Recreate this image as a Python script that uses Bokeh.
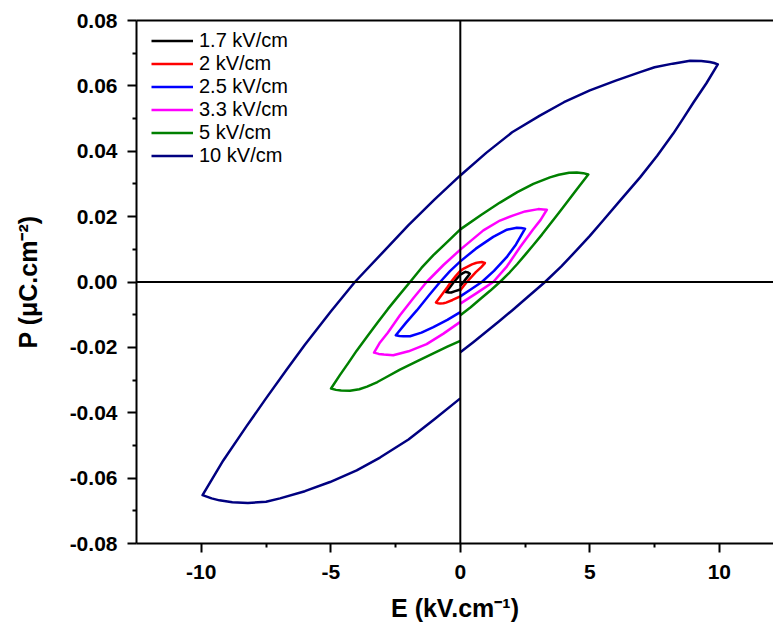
from bokeh.plotting import figure
from bokeh.models import Span, FixedTicker, NumeralTickFormatter, LinearAxis, Range1d
from bokeh.embed import file_html
from bokeh.resources import INLINE

# ---- data ----
labels = ["1.7 kV/cm", "2 kV/cm", "2.5 kV/cm", "3.3 kV/cm", "5 kV/cm", "10 kV/cm"]
colors = ["#000000", "#FF0000", "#0000FF", "#FF00FF", "#008000", "#000080"]

e_17 = [0, 0.1, 0.2, 0.3, 0.37, 0.3, 0.2, 0.1, 0, -0.12, -0.25, -0.4, -0.55, -0.45, -0.35, -0.2, 0]
p_17 = [-0.0012, -0.0002, 0.0008, 0.0018, 0.0025, 0.0029, 0.0031, 0.0027, 0.0022, 0.0012, 0.0,
        -0.0016, -0.0031, -0.0032, -0.0032, -0.0028, -0.0023]

e_2 = [0, 0.25, 0.45, 0.6, 0.8, 0.95, 0.83, 0.7, 0.6, 0.45, 0.3, 0.15, 0, -0.18, -0.36, -0.5,
       -0.65, -0.8, -0.94, -0.86, -0.78, -0.65, -0.55, -0.3, 0]
p_2 = [-0.0025, 0.0, 0.0017, 0.0030, 0.0045, 0.0058, 0.0061, 0.0060, 0.0058, 0.0054, 0.0048,
       0.0042, 0.0034, 0.0018, 0.0, -0.0016, -0.0032, -0.0048, -0.0063, -0.0065, -0.0066,
       -0.0065, -0.0063, -0.0055, -0.0044]

e_25 = [0, 0.4, 0.83, 1.3, 1.79, 2.15, 2.5, 2.35, 2.18, 1.8, 1.27, 0.6, 0, -0.4, -0.78, -1.2,
        -1.68, -2.1, -2.49, -2.35, -2.2, -1.94, -1.5, -1.04, -0.5, 0]
p_25 = [-0.0044, -0.0023, 0.0, 0.0034, 0.0076, 0.0115, 0.0163, 0.0165, 0.0166, 0.0160, 0.0138,
        0.0102, 0.0063, 0.0033, 0.0, -0.0040, -0.0087, -0.0125, -0.0163, -0.0165, -0.0166,
        -0.0166, -0.0155, -0.0138, -0.0116, -0.0092]

e_33 = [0, 0.63, 1.27, 1.8, 2.31, 2.8, 3.1, 3.34, 3.2, 3.01, 2.5, 2.05, 1.53, 0.89, 0, -0.65,
        -1.3, -1.8, -2.33, -2.8, -3.1, -3.33, -3.15, -2.95, -2.59, -2.0, -1.3, -0.65, 0]
p_33 = [-0.0066, -0.0034, 0.0, 0.0048, 0.0107, 0.0160, 0.0190, 0.0221, 0.0222, 0.0223, 0.0216,
        0.0204, 0.0188, 0.0158, 0.0099, 0.0052, 0.0, -0.0048, -0.0102, -0.0155, -0.0185,
        -0.0216, -0.0220, -0.0222, -0.0224, -0.0212, -0.0190, -0.0158, -0.0122]

e_5 = [0, 0.4, 0.76, 1.15, 1.53, 1.9, 2.2, 2.5, 2.82, 3.15, 3.46, 3.8, 4.11, 4.5, 4.94,
       4.75, 4.5, 4.2, 3.8, 3.46, 2.82, 2.2, 1.53, 0.8, 0, -0.5, -1.04, -1.5, -1.94, -2.4,
       -2.8, -3.2, -3.61, -4.0, -4.3, -4.65, -4.99,
       -4.8, -4.6, -4.26, -3.9, -3.6, -3.2, -2.9, -2.33, -1.6, -1.04, -0.5, 0]
p_5 = [-0.0102, -0.0077, -0.0053, -0.0027, 0.0, 0.0029, 0.0055, 0.0083, 0.0113, 0.0145,
       0.0177, 0.0211, 0.0243, 0.0284, 0.0329,
       0.0333, 0.0335, 0.0334, 0.0328, 0.0320, 0.0300, 0.0275, 0.0243, 0.0205, 0.0161,
       0.0123, 0.0082, 0.0043, 0.0, -0.0044, -0.0083, -0.0125, -0.0168, -0.0210, -0.0245,
       -0.0285, -0.0326,
       -0.0330, -0.0332, -0.0333, -0.0328, -0.0320, -0.0306, -0.0293, -0.0268, -0.0240,
       -0.0218, -0.0198, -0.0180]

e_10 = [0, 0.5, 1.0, 1.5, 2.0, 2.6, 3.27, 3.9, 4.5, 5.0, 5.52, 6.2, 6.94, 7.6, 8.22, 8.6,
        9.0, 9.5, 9.94,
        9.8, 9.63, 9.3, 8.87, 8.2, 7.5, 6.94, 6.0, 5.0, 4.0, 3.07, 2.0, 1.0, 0, -1.0, -2.0,
        -3.0, -4.07, -5.0, -6.0, -6.7, -7.5, -8.25, -9.15, -9.95,
        -9.6, -9.3, -8.8, -8.2, -7.5, -6.96, -6.0, -5.03, -4.0, -3.1, -2.0, -1.0, 0]
p_10 = [-0.0215, -0.0184, -0.0152, -0.0120, -0.0087, -0.0046, 0.0, 0.0048, 0.0098, 0.0141,
        0.0189, 0.0252, 0.0320, 0.0386, 0.0454, 0.0500, 0.0549, 0.0608, 0.0666,
        0.0670, 0.0673, 0.0676, 0.0677, 0.0668, 0.0657, 0.0642, 0.0616, 0.0586, 0.0550,
        0.0509, 0.0458, 0.0395, 0.0326, 0.0252, 0.0174, 0.0090, 0.0, -0.0090, -0.0192,
        -0.0268, -0.0356, -0.0441, -0.0546, -0.0652,
        -0.0662, -0.0668, -0.0674, -0.0676, -0.0672, -0.0662, -0.0640, -0.0612, -0.0576,
        -0.0537, -0.0482, -0.0420, -0.0356]

series_e = [e_17, e_2, e_25, e_33, e_5, e_10]
series_p = [p_17, p_2, p_25, p_33, p_5, p_10]

x_ticks = [-10, -5, 0, 5, 10]
x_minor = [-7.5, -2.5, 2.5, 7.5]
y_ticks = [-0.08, -0.06, -0.04, -0.02, 0.0, 0.02, 0.04, 0.06, 0.08]
y_minor = [-0.07, -0.05, -0.03, -0.01, 0.01, 0.03, 0.05, 0.07]

FONT = "Liberation Sans"

p = figure(width=773, height=630,
           x_range=Range1d(-12.5, 12.09), y_range=Range1d(-0.08, 0.08),
           output_backend="svg", toolbar_location=None,
           min_border_left=136, min_border_right=0, min_border_top=20, min_border_bottom=87)
p.outline_line_color = None
p.xgrid.visible = False
p.ygrid.visible = False
p.background_fill_color = "white"

for e, pv, lab, col in zip(series_e, series_p, labels, colors):
    p.line(e, pv, line_color=col, line_width=2.5, legend_label=lab, line_join="round")

# zero lines
p.add_layout(Span(location=0, dimension="width", line_color="black", line_width=2))
p.add_layout(Span(location=0, dimension="height", line_color="black", line_width=2))

xa = p.xaxis[0]
ya = p.yaxis[0]
xa.ticker = FixedTicker(ticks=x_ticks, minor_ticks=x_minor)
ya.ticker = FixedTicker(ticks=y_ticks, minor_ticks=y_minor)
xa.formatter = NumeralTickFormatter(format="0")
ya.formatter = NumeralTickFormatter(format="0.00")
xa.axis_label = "E (kV.cm\u207b\u00b9)"
ya.axis_label = "P (\u03bcC.cm\u207b\u00b2)"
for ax in (xa, ya):
    ax.axis_line_width = 2
    ax.axis_line_color = "black"
    ax.major_tick_line_width = 2
    ax.minor_tick_line_width = 2
    ax.major_tick_line_color = "black"
    ax.minor_tick_line_color = "black"
    ax.major_tick_out = 9
    ax.major_tick_in = 0
    ax.minor_tick_out = 4
    ax.minor_tick_in = 0
    ax.major_label_text_font = FONT
    ax.major_label_text_font_style = "bold"
    ax.major_label_text_font_size = "21px"
    ax.major_label_text_color = "black"
    ax.axis_label_text_font = FONT
    ax.axis_label_text_font_style = "bold"
    ax.axis_label_text_font_size = "25px"
    ax.axis_label_text_color = "black"
xa.major_label_standoff = 12
ya.major_label_standoff = 10
xa.axis_label_standoff = 12
ya.axis_label_standoff = 25

top = LinearAxis(ticker=FixedTicker(ticks=[]), axis_line_width=2, axis_line_color="black",
                 major_tick_line_color=None, minor_tick_line_color=None,
                 major_label_text_font_size="0px", major_label_standoff=0)
p.add_layout(top, "above")

leg = p.legend[0]
leg.location = (15, 376)
leg.border_line_color = None
leg.background_fill_alpha = 0
leg.padding = 0
leg.margin = 0
leg.spacing = 0
leg.glyph_width = 42
leg.glyph_height = 23
leg.label_height = 23
leg.label_standoff = 6
leg.label_text_font = FONT
leg.label_text_font_size = "20px"
leg.label_text_color = "black"

open("out.html", "w").write(file_html(p, INLINE))
